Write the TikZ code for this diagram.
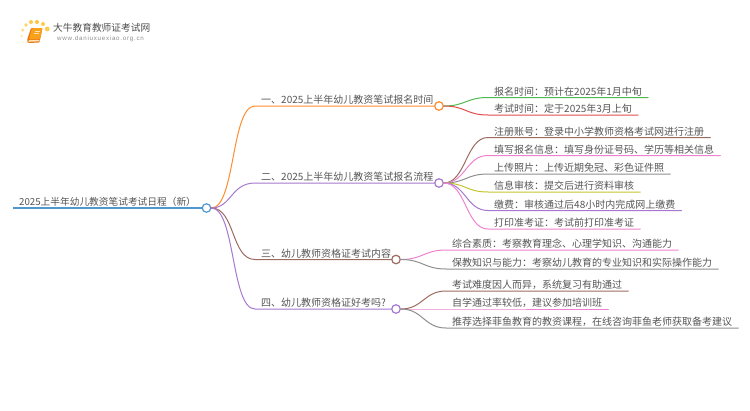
\documentclass[tikz,border=0pt]{standalone}
\usepackage{fontspec}
\setmainfont{Noto Sans CJK SC}
\setsansfont{Liberation Sans}
\definecolor{cBlue}{HTML}{4F97CF}
\definecolor{cOrange}{HTML}{FF8C2E}
\definecolor{cPurple}{HTML}{A678D0}
\definecolor{cBrown}{HTML}{9C6B5F}
\definecolor{cGreen}{HTML}{4FB84F}
\definecolor{cRed}{HTML}{E34B4B}
\definecolor{cPink}{HTML}{EE82D0}
\definecolor{cGray}{HTML}{8F8F8F}
\definecolor{cOlive}{HTML}{C4C42E}
\definecolor{cText}{HTML}{555555}
\definecolor{bookFace}{HTML}{F9A11B}
\definecolor{bookSpine}{HTML}{E8760F}
\definecolor{bookPage}{HTML}{FDE3B8}
\tikzset{
  x=1pt,y=-1pt,
  topic/.style={anchor=south west,inner xsep=6pt,inner ysep=1.2pt,text=cText,font=\fontsize{10}{12}\selectfont},
  hub/.style={circle,draw=#1,fill=white,line width=1.2pt,minimum size=8.5pt,inner sep=0pt},
  link/.style={draw=#1,line width=1pt,line cap=round},
}
\newcommand{\linkto}[4]{\draw[link=#1] (#2.east) .. controls +(#3,0) and +(-#3,0) .. (#4.south west) -- (#4.south east);}
\begin{document}
\begin{tikzpicture}
\useasboundingbox (0,0) rectangle (750,410);
% logo
\foreach \px/\py/\r/\c in {23/42/1/FFF0C8,21.7/36/1.4/FFE9A8,22.7/30/1.7/FFDD80,26/25/1.9/FFD466,31/22/2/FFC94D,37/22/2/FFC23D,43/24/2/FFC94D,47.3/29/2.4/FFC94D}{
  \definecolor{tmpc}{HTML}{\c}
  \fill[tmpc] (\px,\py) circle (\r);
}
\fill[rounded corners=1pt,bookSpine] (31,28) -- (42.5,28) -- (39.5,42.5) -- (28,43) -- (27,40) -- cycle;
\fill[rounded corners=1pt,bookFace] (32,28) -- (42.5,28) -- (40,39) -- (29,39.5) -- cycle;
\fill[bookPage] (28.5,40.3) -- (39.6,39.8) -- (39.3,41.3) -- (28.7,41.8) -- cycle;
\draw[bookPage,line width=.6pt] (34.5,31) -- (40,31) (34,33.5) -- (39.3,33.5);
\node[anchor=west,inner sep=0pt,text=black!70] (logotitle) at (53,27.5) {\fontsize{9.7}{12}\selectfont 大牛教育教师证考试网};
\node[anchor=west,inner sep=0pt,text=black!45] (logourl) at (57,39) {\sffamily\fontsize{6.2}{8}\selectfont\addfontfeatures{LetterSpace=12} www.daniuxuexiao.org.cn};
% nodes
\node[topic] (root) at (13,208) {\fontsize{9.7}{12}\selectfont 2025上半年幼儿教资笔试考试日程（新）};
\node[topic] (b1) at (255,106) {一、2025上半年幼儿教资笔试报名时间};
\node[topic] (b2) at (255,183) {二、2025上半年幼儿教资笔试报名流程};
\node[topic] (b3) at (255,259.5) {三、幼儿教师资格证考试内容};
\node[topic] (b4) at (255,309) {四、幼儿教师资格证好考吗?};
\node[topic] (a1) at (488,97.5) {报名时间：预计在2025年1月中旬};
\node[topic] (a2) at (488,115) {考试时间：定于2025年3月上旬};
\node[topic] (c1) at (488,137.5) {注册账号：登录中小学教师资格考试网进行注册};
\node[topic] (c2) at (488,155.5) {填写报名信息：填写身份证号码、学历等相关信息};
\node[topic] (c3) at (488,174) {上传照片：上传近期免冠、彩色证件照};
\node[topic] (c4) at (488,192) {信息审核：提交后进行资料审核};
\node[topic] (c5) at (488,210.5) {缴费：审核通过后48小时内完成网上缴费};
\node[topic] (c6) at (488,229) {打印准考证：考试前打印准考证};
\node[topic] (d1) at (446,250) {综合素质：考察教育理念、心理学知识、沟通能力};
\node[topic] (d2) at (446,269) {保教知识与能力：考察幼儿教育的专业知识和实际操作能力};
\node[topic] (e1) at (446,291) {考试难度因人而异，系统复习有助通过};
\node[topic] (e2) at (446,309) {自学通过率较低，建议参加培训班};
\node[topic] (e3) at (446,328) {推荐选择菲鱼教育的教资课程，在线咨询菲鱼老师获取备考建议};
\node[hub=cBlue] (hr) at (206.5,208) {};
\node[hub=cOrange] (h1) at (439,106) {};
\node[hub=cPurple] (h2) at (439,183) {};
\node[hub=cBrown] (h3) at (396,259.5) {};
\node[hub=cPurple] (h4) at (396,309) {};
% connectors
\draw[link=cBlue,line width=1.6pt,line cap=butt] (root.south west) -- (hr.west);
\draw[link=cOrange] (hr.east) .. controls +(24,0) and +(-24,0) .. (b1.south west) -- (h1.west);
\draw[link=cPurple] (hr.east) .. controls +(20,0) and +(-24,0) .. (b2.south west) -- (h2.west);
\draw[link=cBrown] (hr.east) .. controls +(24,0) and +(-24,0) .. (b3.south west) -- (h3.west);
\draw[link=cPurple] (hr.east) .. controls +(24,0) and +(-24,0) .. (b4.south west) -- (h4.west);
\linkto{cGreen}{h1}{22}{a1}
\linkto{cRed}{h1}{22}{a2}
\linkto{cBrown}{h2}{22}{c1}
\linkto{cPink}{h2}{22}{c2}
\linkto{cGray}{h2}{22}{c3}
\linkto{cOlive}{h2}{22}{c4}
\linkto{cPurple}{h2}{22}{c5}
\linkto{cPink}{h2}{22}{c6}
\linkto{cPink}{h3}{22}{d1}
\linkto{cGray}{h3}{22}{d2}
\linkto{cBrown}{h4}{22}{e1}
\linkto{cPink}{h4}{22}{e2}
\linkto{cGray}{h4}{22}{e3}
\end{tikzpicture}
\end{document}
